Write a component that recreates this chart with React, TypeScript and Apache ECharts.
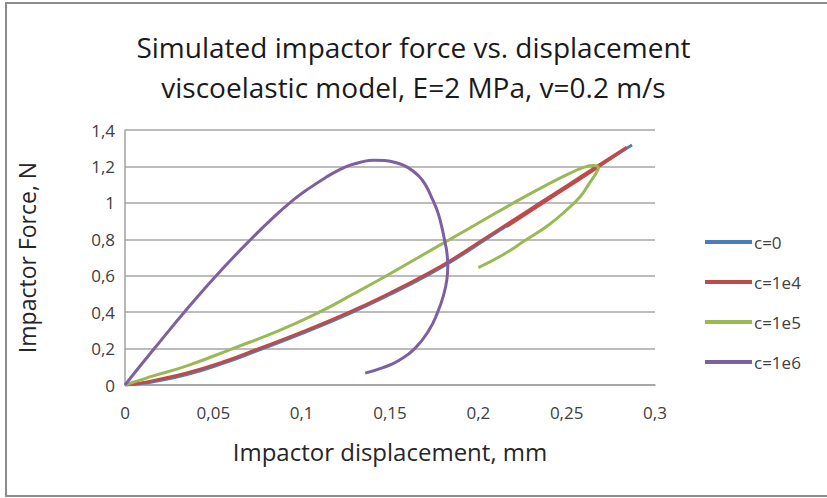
import React, { useEffect, useRef } from "react";
import * as echarts from "echarts";

const seriesNames = ["c=0", "c=1e4", "c=1e5", "c=1e6"];
const seriesColors = ["#4a7ebb", "#be4b48", "#98b954", "#7d60a0"];

const xTicks = { min: 0, max: 0.3, step: 0.05 };
const yTicks = { min: 0, max: 1.4, step: 0.2 };

// c = 0 (elastic): loading curve
const c0Points: [number, number][] = [
  [0, 0], [0.008, 0.007], [0.016, 0.018], [0.035, 0.057], [0.055, 0.117],
  [0.075, 0.189], [0.1, 0.282], [0.127, 0.392], [0.15, 0.497], [0.171, 0.602],
  [0.187, 0.692], [0.203, 0.792], [0.219, 0.893], [0.235, 0.994], [0.251, 1.095],
  [0.267, 1.196], [0.287, 1.318],
];

// c = 1e4: loading then slight unloading
const c1e4Points: [number, number][] = [
  [0, 0], [0.008, 0.01], [0.016, 0.024], [0.035, 0.066], [0.055, 0.125],
  [0.075, 0.197], [0.1, 0.29], [0.127, 0.4], [0.15, 0.505], [0.171, 0.61],
  [0.187, 0.7], [0.203, 0.8], [0.219, 0.9], [0.235, 1.0], [0.251, 1.1],
  [0.267, 1.2], [0.284, 1.305], [0.282, 1.29], [0.267, 1.192], [0.251, 1.09],
  [0.235, 0.99], [0.216, 0.87],
];

// c = 1e5: loading then unloading
const c1e5Points: [number, number][] = [
  [0, 0], [0.008, 0.025], [0.016, 0.05], [0.035, 0.105], [0.061, 0.2],
  [0.0875, 0.3], [0.11, 0.4], [0.1293, 0.5], [0.148, 0.6], [0.166, 0.7],
  [0.184, 0.8], [0.202, 0.9], [0.22, 1.0], [0.239, 1.1], [0.252, 1.163],
  [0.26, 1.196], [0.265, 1.205], [0.268, 1.192], [0.267, 1.168], [0.263, 1.11],
  [0.258, 1.038], [0.25, 0.962], [0.24, 0.88], [0.227, 0.797], [0.214, 0.715],
  [0.2, 0.645],
];

// c = 1e6: strong hysteresis loop
const c1e6Points: [number, number][] = [
  [0, 0], [0.0082, 0.1], [0.0166, 0.2], [0.025, 0.3], [0.0336, 0.4],
  [0.0424, 0.5], [0.0516, 0.6], [0.0612, 0.7], [0.0713, 0.8], [0.0818, 0.9],
  [0.0953, 1.016], [0.105, 1.085], [0.1142, 1.143], [0.121, 1.18], [0.1274, 1.207],
  [0.134, 1.225], [0.1406, 1.234], [0.147, 1.232], [0.154, 1.219], [0.16, 1.195],
  [0.166, 1.15], [0.17, 1.1], [0.174, 1.02], [0.177, 0.95], [0.179, 0.88],
  [0.181, 0.79], [0.1823, 0.72], [0.1827, 0.65], [0.1822, 0.58], [0.1805, 0.5],
  [0.177, 0.4], [0.172, 0.3], [0.164, 0.2], [0.155, 0.135], [0.146, 0.095],
  [0.136, 0.065],
];

const allPoints = [c0Points, c1e4Points, c1e5Points, c1e6Points];

const fmt = (v: number) => String(+v.toFixed(2)).replace(".", ",");

export default function App() {
  const ref = useRef<HTMLDivElement>(null);
  useEffect(() => {
    if (!ref.current) return;
    const chart = echarts.init(ref.current, undefined, { renderer: "svg" });
    const font = "Open Sans";
    chart.setOption({
      animation: false,
      backgroundColor: "#ffffff",
      title: {
        text: "Simulated impactor force vs. displacement\nviscoelastic model, E=2 MPa, v=0.2 m/s",
        left: "center",
        top: 22,
        textStyle: {
          fontFamily: font,
          fontSize: 28,
          fontWeight: "normal",
          color: "#1a1a1a",
          lineHeight: 40,
        },
      },
      graphic: [
        {
          type: "rect",
          shape: { x: 6, y: 3, width: 840, height: 493 },
          style: { fill: "none", stroke: "#8c8c8c", lineWidth: 2 },
          silent: true,
        },
      ],
      legend: {
        orient: "vertical",
        left: 700,
        top: 226,
        itemWidth: 47,
        itemHeight: 4,
        itemGap: 18,
        icon: "rect",
        textStyle: { fontFamily: font, fontSize: 17, color: "#404040", padding: [0, 0, 0, -3], lineHeight: 22 },
        data: seriesNames,
      },
      grid: { left: 125, right: 172, top: 130, bottom: 113, containLabel: false },
      xAxis: {
        type: "value",
        min: xTicks.min,
        max: xTicks.max,
        interval: xTicks.step,
        name: "Impactor displacement, mm",
        nameLocation: "middle",
        nameGap: 54,
        nameTextStyle: { fontFamily: font, fontSize: 24, color: "#262626" },
        axisLine: { show: true, lineStyle: { color: "#a0a0a0", width: 1.5 } },
        axisTick: { show: false },
        axisLabel: { formatter: fmt, fontFamily: font, fontSize: 17, color: "#404040", margin: 19 },
        splitLine: { show: false },
      },
      yAxis: {
        type: "value",
        min: yTicks.min,
        max: yTicks.max,
        interval: yTicks.step,
        name: "Impactor Force, N",
        nameLocation: "middle",
        nameGap: 87,
        nameTextStyle: { fontFamily: font, fontSize: 23, color: "#262626" },
        axisLine: { show: true, lineStyle: { color: "#a0a0a0", width: 1.5 } },
        axisTick: { show: false },
        axisLabel: { formatter: fmt, fontFamily: font, fontSize: 17, color: "#404040", margin: 10 },
        splitLine: { show: true, lineStyle: { color: "#a6a6a6", width: 1.5 } },
      },
      series: allPoints.map((pts, i) => ({
        name: seriesNames[i],
        type: "line",
        data: pts,
        smooth: 0.5,
        showSymbol: false,
        symbol: "none",
        color: seriesColors[i],
        lineStyle: { width: 3, color: seriesColors[i] },
      })),
    });
    return () => chart.dispose();
  }, []);
  return <div ref={ref} style={{ position: "absolute", left: 0, top: 0, width: 827, height: 498 }} />;
}
